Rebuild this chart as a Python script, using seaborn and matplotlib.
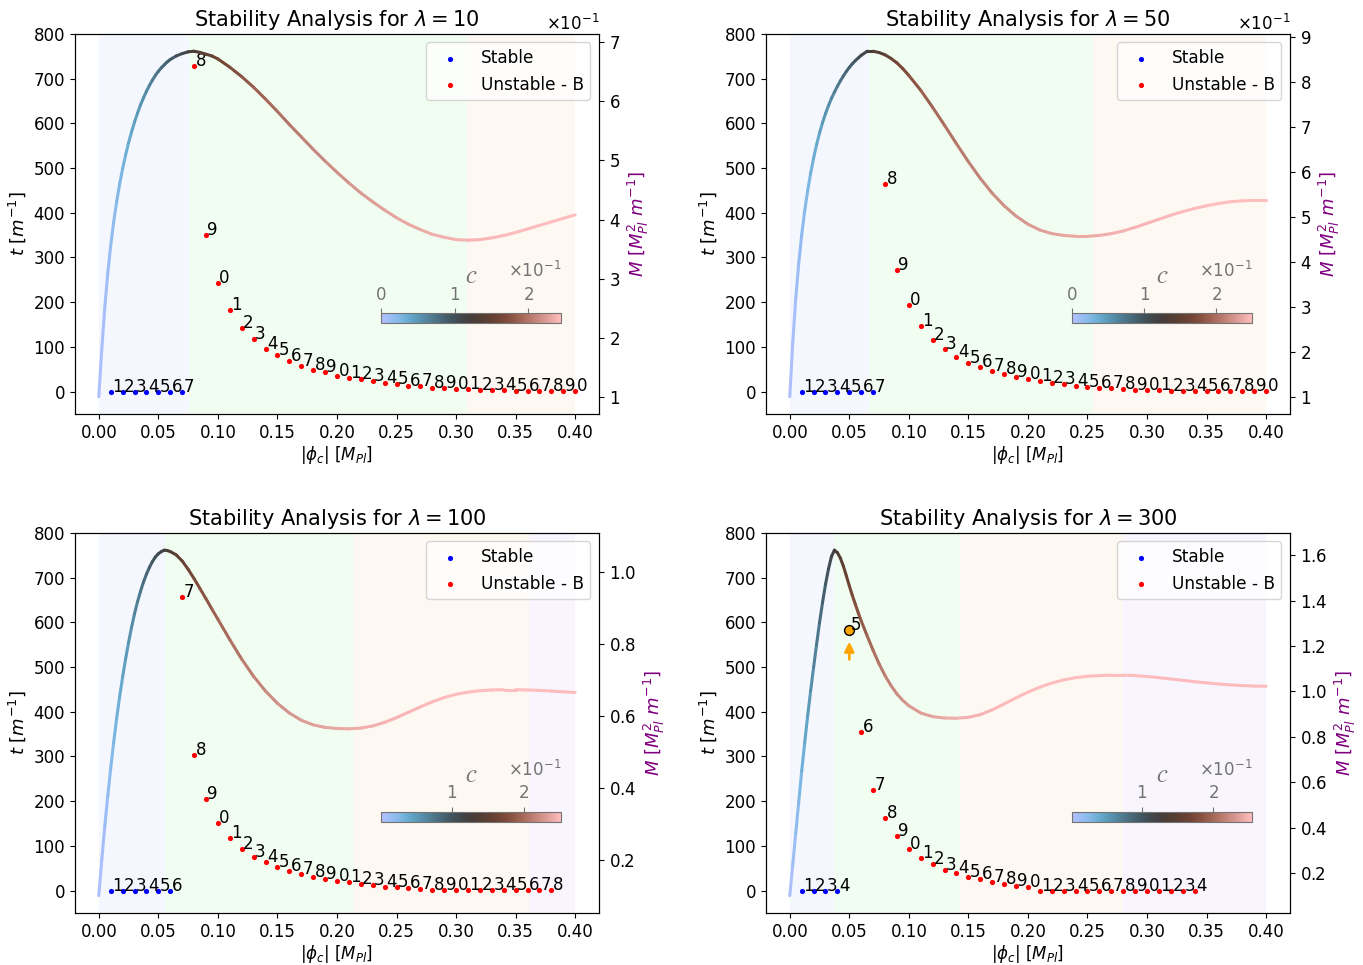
import numpy as np
import matplotlib
matplotlib.use('Agg')
import matplotlib.pyplot as plt
import seaborn as sns
from matplotlib.collections import LineCollection
from matplotlib.colors import ListedColormap, Normalize
from matplotlib.ticker import ScalarFormatter

lambdas = [10, 50, 100, 300]

# sampling of the M(phi_c) curves
phi_curve = [0.0, 0.0025, 0.005, 0.0075, 0.01, 0.0125, 0.015, 0.0175, 0.02, 0.0225,
             0.025, 0.0275, 0.03, 0.0325, 0.035, 0.0375, 0.04, 0.0425, 0.045, 0.0475,
             0.05, 0.0525, 0.055, 0.0575, 0.06,
             0.065, 0.07, 0.075, 0.08, 0.085, 0.09, 0.095, 0.10,
             0.11, 0.12, 0.13, 0.14, 0.15, 0.16, 0.17, 0.18, 0.19, 0.20,
             0.21, 0.22, 0.23, 0.24, 0.25, 0.26, 0.27, 0.28, 0.29, 0.30,
             0.31, 0.32, 0.33, 0.34, 0.35, 0.36, 0.37, 0.38, 0.39, 0.40]

M_10 = [0.100, 0.180, 0.250, 0.308, 0.356, 0.396, 0.430, 0.460, 0.486, 0.509,
        0.530, 0.548, 0.565, 0.580, 0.594, 0.606, 0.617, 0.627, 0.636, 0.644,
        0.651, 0.657, 0.662, 0.667, 0.671,
        0.677, 0.681, 0.684, 0.685, 0.683, 0.680, 0.677, 0.672,
        0.658, 0.642, 0.624, 0.604, 0.583, 0.561, 0.540, 0.519, 0.499, 0.480,
        0.462, 0.445, 0.430, 0.416, 0.403, 0.392, 0.383, 0.375, 0.370, 0.366,
        0.365, 0.366, 0.369, 0.373, 0.378, 0.384, 0.390, 0.396, 0.402, 0.408]
M_50 = [0.100, 0.220, 0.318, 0.396, 0.460, 0.513, 0.558, 0.597, 0.631, 0.661,
        0.687, 0.710, 0.730, 0.748, 0.764, 0.778, 0.791, 0.803, 0.814, 0.824,
        0.833, 0.841, 0.848, 0.854, 0.860,
        0.869, 0.869, 0.866, 0.861, 0.853, 0.843, 0.830, 0.815,
        0.782, 0.744, 0.704, 0.663, 0.623, 0.586, 0.553, 0.525, 0.502, 0.484,
        0.471, 0.463, 0.459, 0.457, 0.457, 0.459, 0.463, 0.469, 0.477, 0.486,
        0.495, 0.504, 0.512, 0.519, 0.525, 0.530, 0.534, 0.536, 0.537, 0.537]
M_100 = [0.100, 0.199, 0.291, 0.376, 0.454, 0.526, 0.593, 0.653, 0.708, 0.758,
         0.804, 0.846, 0.884, 0.917, 0.946, 0.972, 0.994, 1.013, 1.029, 1.042,
         1.051, 1.057, 1.061, 1.060, 1.057,
         1.048, 1.031, 1.008, 0.982, 0.954, 0.926, 0.897, 0.869,
         0.812, 0.758, 0.710, 0.669, 0.635, 0.608, 0.588, 0.575, 0.568, 0.565,
         0.564, 0.566, 0.572, 0.582, 0.595, 0.610, 0.625, 0.639, 0.651, 0.660,
         0.666, 0.670, 0.672, 0.673, 0.673, 0.672, 0.671, 0.669, 0.667, 0.665]
M_300 = [0.100, 0.237, 0.374, 0.511, 0.649, 0.772, 0.892, 1.002, 1.106, 1.207,
         1.304, 1.392, 1.472, 1.540, 1.595, 1.623, 1.612, 1.588, 1.553, 1.510,
         1.466, 1.424, 1.385, 1.347, 1.311,
         1.245, 1.181, 1.122, 1.070, 1.026, 0.989, 0.960, 0.937,
         0.905, 0.889, 0.883, 0.882, 0.886, 0.898, 0.919, 0.945, 0.972, 0.997,
         1.019, 1.037, 1.051, 1.061, 1.067, 1.070, 1.072, 1.072, 1.070, 1.066,
         1.061, 1.055, 1.049, 1.043, 1.038, 1.033, 1.029, 1.026, 1.024, 1.023]

# compactness along each curve
C_10 = [0.000, 0.004, 0.007, 0.011, 0.015, 0.018, 0.022, 0.026, 0.029, 0.033,
        0.037, 0.040, 0.044, 0.048, 0.051, 0.055, 0.059, 0.062, 0.066, 0.070,
        0.074, 0.077, 0.081, 0.085, 0.088,
        0.096, 0.105, 0.115, 0.125, 0.135, 0.143, 0.151, 0.157,
        0.168, 0.176, 0.184, 0.190, 0.196, 0.201, 0.206, 0.210, 0.214, 0.217,
        0.220, 0.223, 0.225, 0.228, 0.230, 0.232, 0.233, 0.235, 0.237, 0.238,
        0.239, 0.240, 0.241, 0.242, 0.243, 0.244, 0.244, 0.245, 0.245, 0.245]
C_50 = [0.000, 0.004, 0.009, 0.013, 0.017, 0.022, 0.026, 0.030, 0.035, 0.039,
        0.043, 0.048, 0.052, 0.056, 0.061, 0.065, 0.070, 0.074, 0.078, 0.083,
        0.087, 0.091, 0.095, 0.100, 0.106,
        0.118, 0.130, 0.141, 0.150, 0.158, 0.165, 0.171, 0.176,
        0.186, 0.193, 0.200, 0.205, 0.210, 0.214, 0.218, 0.222, 0.225, 0.228,
        0.230, 0.233, 0.235, 0.237, 0.238, 0.240, 0.242, 0.243, 0.244, 0.245,
        0.246, 0.247, 0.248, 0.249, 0.249, 0.250, 0.250, 0.250, 0.250, 0.250]
C_100 = [0.002, 0.007, 0.012, 0.018, 0.023, 0.028, 0.033, 0.038, 0.043, 0.049,
         0.054, 0.059, 0.064, 0.069, 0.075, 0.080, 0.085, 0.090, 0.096, 0.102,
         0.108, 0.115, 0.121, 0.127, 0.135,
         0.148, 0.158, 0.166, 0.173, 0.180, 0.185, 0.190, 0.195,
         0.202, 0.208, 0.214, 0.219, 0.223, 0.227, 0.230, 0.233, 0.236, 0.238,
         0.240, 0.242, 0.243, 0.245, 0.246, 0.247, 0.248, 0.249, 0.250, 0.251,
         0.251, 0.252, 0.252, 0.252, 0.252, 0.252, 0.252, 0.251, 0.251, 0.251]
C_300 = [0.002, 0.010, 0.017, 0.025, 0.033, 0.041, 0.049, 0.056, 0.064, 0.072,
         0.080, 0.088, 0.096, 0.104, 0.115, 0.125, 0.135, 0.145, 0.154, 0.161,
         0.168, 0.174, 0.179, 0.184, 0.189,
         0.196, 0.203, 0.209, 0.215, 0.219, 0.223, 0.227, 0.230,
         0.235, 0.239, 0.243, 0.245, 0.248, 0.249, 0.251, 0.252, 0.253, 0.254,
         0.254, 0.255, 0.255, 0.255, 0.255, 0.255, 0.255, 0.255, 0.255, 0.254,
         0.254, 0.254, 0.254, 0.254, 0.254, 0.254, 0.254, 0.254, 0.254, 0.254]

# stability runs: phi_c = 0.01, 0.02, ...
n_stable = {10: 7, 50: 7, 100: 6, 300: 4}
t_unstable = {
    10: [728, 351, 242, 183, 143, 117, 96, 81, 68, 58, 49, 43, 36, 31, 28, 23,
         20, 17, 13, 12, 9, 7.5, 6, 5, 4.5, 4, 3, 2, 1, 1, 0.5, 0.5, 0.5],
    50: [465, 272, 193, 147, 116, 95, 77, 65, 54, 46, 39, 33, 28, 24, 20, 16,
         13, 11, 9, 7, 5, 4.5, 4, 3, 2, 1, 1, 0.5, 0.5, 0.5, 0.5, 0.5, 0.5],
    100: [657, 304, 205, 152, 117, 93, 76, 64, 52, 43, 36, 30, 25, 22, 18, 15,
          12, 9, 7, 5, 4, 2, 1, 0.5, 0.5, 0.5, 0.5, 0.5, 0.5, 0.5, 0.5, 0.5],
    300: [583, 355, 226, 162, 121, 93, 73, 59, 47, 39, 31, 25, 20, 15, 10, 7,
          0, 0, 0, 0, 0, 0, 0, 0, 0, 0, 0, 0, 0, 0],
}
highlight = {300: 5}

# turning points of M -> shaded branches
region_edges = {
    10: [0.0, 0.076, 0.309, 0.40],
    50: [0.0, 0.0665, 0.255, 0.40],
    100: [0.0, 0.056, 0.214, 0.361, 0.40],
    300: [0.0, 0.037, 0.143, 0.280, 0.40],
}
region_colors = ['#f4f7fe', '#f2fdf2', '#fef8f3', '#f8f5fe']

curves = {10: (M_10, C_10), 50: (M_50, C_50), 100: (M_100, C_100), 300: (M_300, C_300)}

base = plt.get_cmap('berlin')(np.linspace(0, 1, 256))[:, :3]
cmap = ListedColormap(base * 0.8 + 0.2)

fig, axes = plt.subplots(2, 2, figsize=(13.63, 9.65))
plt.subplots_adjust(left=0.055, right=0.9464, bottom=0.054, top=0.9648,
                    wspace=0.3187, hspace=0.313)

for ax, lam in zip(axes.flat, lambdas):
    edges = region_edges[lam]
    for i in range(len(edges) - 1):
        ax.axvspan(edges[i], edges[i + 1], color=region_colors[i], lw=0, zorder=0)

    ns = n_stable[lam]
    tu = t_unstable[lam]
    phi_pts = np.arange(1, ns + len(tu) + 1) / 100
    t_pts = np.array([0.0] * ns + list(tu))

    sns.scatterplot(x=phi_pts[:ns], y=t_pts[:ns], color='blue', s=14,
                    linewidth=0, label='Stable', ax=ax, zorder=3)
    sns.scatterplot(x=phi_pts[ns:], y=t_pts[ns:], color='red', s=14,
                    linewidth=0, label='Unstable - B', ax=ax, zorder=3)
    if lam in highlight:
        k = highlight[lam] - 1
        ax.scatter(phi_pts[k], t_pts[k], s=50, color='orange', edgecolor='black',
                   linewidth=1, zorder=4)
        ax.annotate('', xy=(phi_pts[k], t_pts[k] - 20), xytext=(phi_pts[k], t_pts[k] - 72),
                    arrowprops=dict(arrowstyle='-|>', color='orange', lw=2,
                                    mutation_scale=14))
    for i, (xp, yp) in enumerate(zip(phi_pts, t_pts)):
        ax.text(xp + 0.0012, yp, str((i + 1) % 10), fontsize=12,
                ha='left', va='baseline', zorder=5)

    ax.set_xlim(-0.02, 0.42)
    ax.set_ylim(-50, 800)
    ax.set_xlabel(r'$|\phi_c|$ $[M_{Pl}]$', fontsize=12, labelpad=2)
    ax.set_ylabel(r'$t$ $[m^{-1}]$', fontsize=13)
    ax.set_title(rf'Stability Analysis for $\lambda = {lam}$', fontsize=15)
    ax.tick_params(labelsize=12)
    ax.legend(loc='upper right', fontsize=12.2)

    M, C = curves[lam]
    ax2 = ax.twinx()
    pts = np.column_stack([phi_curve, M]).reshape(-1, 1, 2)
    segs = np.concatenate([pts[:-1], pts[1:]], axis=1)
    C = np.array(C)
    norm = Normalize(vmin=C.min(), vmax=C.max())
    lc = LineCollection(segs, cmap=cmap, norm=norm, linewidth=2.2, capstyle='round')
    lc.set_array((C[:-1] + C[1:]) / 2)
    ax2.add_collection(lc)
    ax2.autoscale_view()
    ax2.set_xlim(-0.02, 0.42)
    fmt = ScalarFormatter(useMathText=True)
    fmt.set_powerlimits((0, 0))
    ax2.yaxis.set_major_formatter(fmt)
    ax2.yaxis.get_offset_text().set_fontsize(12)
    ax2.tick_params(labelsize=12)
    ax2.set_ylabel(r'$M$ $[M_{Pl}^2\ m^{-1}]$', color='purple', fontsize=13)

    cax = ax.inset_axes([0.584, 0.239, 0.344, 0.026])
    cb = fig.colorbar(lc, cax=cax, orientation='horizontal')
    cfmt = ScalarFormatter(useMathText=True)
    cfmt.set_powerlimits((0, 0))
    cb.formatter = cfmt
    cb.update_ticks()
    cax.xaxis.set_ticks_position('top')
    cax.xaxis.set_label_position('top')
    cax.tick_params(colors='0.45', labelsize=12)
    cax.xaxis.get_offset_text().set_color('0.45')
    cax.xaxis.get_offset_text().set_fontsize(12)
    cb.outline.set_edgecolor('0.45')
    cb.set_label(r'$\mathcal{C}$', color='0.45', fontsize=13, labelpad=2)

fig.savefig('out.png', dpi=100)
